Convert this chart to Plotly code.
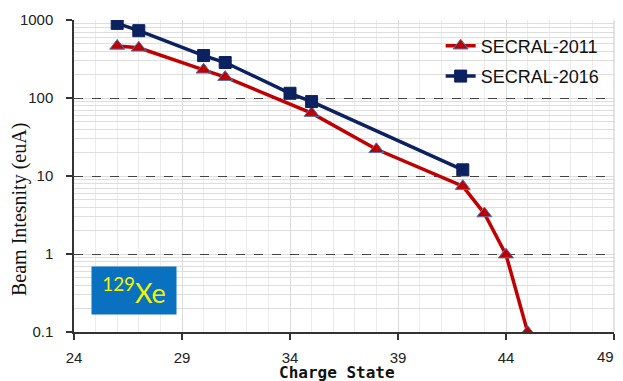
import plotly.graph_objects as go

# Data
q_2011 = [26, 27, 30, 31, 35, 38, 42, 43, 44, 45]
i_2011 = [465, 440, 230, 185, 64, 22, 7.4, 3.3, 0.98, 0.1]
q_2016 = [26, 27, 30, 31, 34, 35, 42]
i_2016 = [905, 730, 350, 285, 115, 90, 12]
y_tickvals = [0.1, 1, 10, 100, 1000]
y_ticktext = ["0.1", "1", "10", "100", "1000"]
x_tickvals = [24, 29, 34, 39, 44, 49]
x_ticktext = ["24", "29", "34", "39", "44", ""]
x_last_label = "49"

RED = "#C00000"
NAVY = "#0B2160"

fig = go.Figure()
fig.add_trace(go.Scatter(
    x=q_2011, y=i_2011, mode="lines+markers", name="SECRAL-2011",
    line=dict(color=RED, width=3.5),
    marker=dict(symbol="triangle-up", size=13, color=RED,
                line=dict(color="#5470B0", width=1)),
    legendgroup="a",
))
fig.add_trace(go.Scatter(
    x=q_2016, y=i_2016, mode="lines+markers", name="SECRAL-2016",
    line=dict(color=NAVY, width=3.5),
    marker=dict(symbol="square", size=12, color=NAVY,
                line=dict(color=NAVY, width=1)),
    legendgroup="b",
))

# page body has an 8px margin, so the figure is offset by 8px
fig.update_layout(
    width=607, height=373,
    margin=dict(l=66, r=1, t=12, b=49),
    paper_bgcolor="white", plot_bgcolor="white",
    font=dict(family="Liberation Sans, Arial", size=15, color="#222222"),
    showlegend=True,
    legend=dict(
        x=0.679, y=0.976, xanchor="left", yanchor="top",
        bgcolor="rgba(0,0,0,0)", borderwidth=0,
        font=dict(family="Liberation Sans, Arial", size=18, color="#111111"),
        tracegroupgap=4,
    ),
    xaxis=dict(
        range=[24, 49], tickvals=x_tickvals, ticktext=x_ticktext,
        showgrid=True, gridcolor="#dcdcdc", gridwidth=1, griddash="solid",
        minor=dict(dtick=1, tick0=24, showgrid=True, gridcolor="#ececec",
                   gridwidth=1, griddash="solid"),
        showline=True, linecolor="#333333", linewidth=1.5,
        ticks="outside", ticklen=6, tickcolor="#333333", tickwidth=1.5,
        ticklabelstandoff=5,
        zeroline=False,
    ),
    yaxis=dict(
        type="log", range=[-1, 3], tickvals=y_tickvals, ticktext=y_ticktext,
        showgrid=True, gridcolor="#444444", gridwidth=1, griddash="dash",
        minor=dict(dtick="D1", showgrid=True, gridcolor="#dedede",
                   gridwidth=1, griddash="solid"),
        showline=True, linecolor="#333333", linewidth=1.5,
        ticks="outside", ticklen=6, tickcolor="#333333", tickwidth=1.5,
        ticklabelstandoff=10,
        zeroline=False,
    ),
)

# right frame line (gridline at x=49)
fig.add_shape(type="line", xref="paper", yref="paper", x0=1, x1=1, y0=0, y1=1,
              line=dict(color="#c8c8c8", width=1))

# last x tick label, kept inside the figure edge
fig.add_annotation(text=x_last_label, xref="paper", yref="paper",
                   x=1.0, y=-0.08, xanchor="right", yanchor="middle",
                   showarrow=False, xshift=2,
                   font=dict(family="Liberation Sans, Arial", size=15, color="#222222"))

# axis titles
fig.add_annotation(text="Beam Intesnity (euA)", xref="paper", yref="paper",
                   x=-0.102, y=0.394, xanchor="center", yanchor="middle",
                   textangle=-90, showarrow=False,
                   font=dict(family="Liberation Serif, Times New Roman", size=20, color="#111111"))
fig.add_annotation(text="<b>Charge State</b>", xref="paper", yref="paper",
                   x=0.487, y=-0.13, xanchor="center", yanchor="middle",
                   showarrow=False,
                   font=dict(family="DejaVu Sans Mono", size=16, color="#111111"))

# 129Xe label box
fig.add_annotation(text="<sup>129</sup>Xe", xref="paper", yref="paper",
                   x=0.112, y=0.133, xanchor="center", yanchor="middle",
                   showarrow=False, bgcolor="#0A70C0", width=82, height=45,
                   font=dict(family="Lato, Open Sans", size=27, color="#F2F200"))

fig.write_html("out.html")
